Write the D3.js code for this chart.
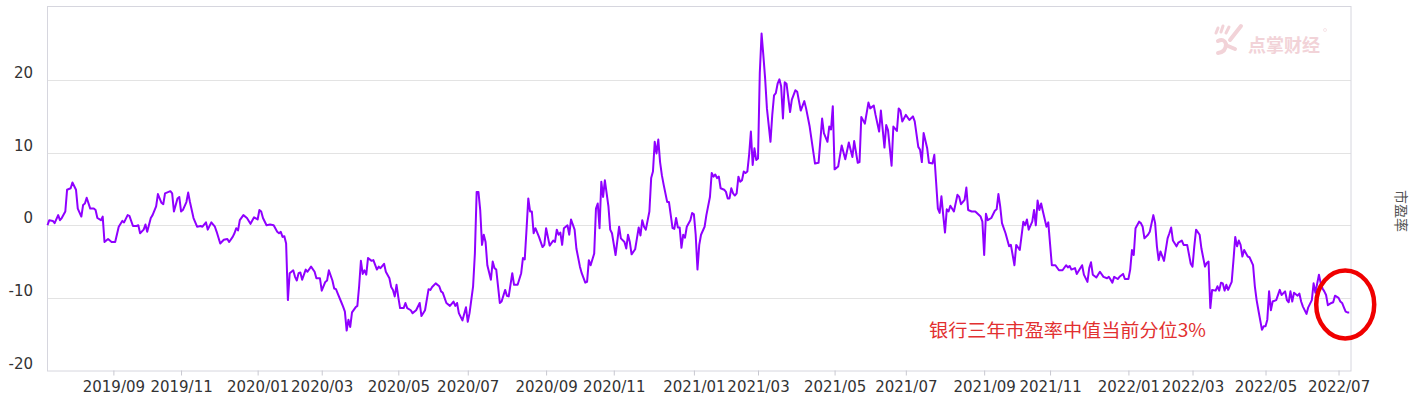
<!DOCTYPE html>
<html>
<head>
<meta charset="utf-8">
<script src="https://cdn.jsdelivr.net/npm/d3@7"></script>
<style>
  body { margin: 0; background: #fff; }
  svg { display: block; }
</style>
</head>
<body>
<div id="chart"></div>
<script>
// trading-day index (0 = first day shown) and the value drawn on that day
var tradeDay = [0,1,3,4,6,7,8,10,11,13,14,16,17,19,20,21,22,24,26,27,28,30,31,32,34,36,38,40,42,43,45,46,48,50,51,52,54,55,56,58,59,61,62,64,65,66,69,70,71,73,74,75,76,78,79,80,82,84,86,87,89,90,92,94,95,97,99,101,102,104,105,
  106,107,108,110,112,114,116,118,119,120,121,123,125,127,129,130,131,132,133,134,135,136,138,139,140,141,142,143,145,146,148,150,151,153,154,156,157,158,160,161,162,163,165,166,167,168,169,170,171,173,174,175,176,177,178,179,180,182,183,185,186,187,189,190,192,193,194,195,196,197,198,200,201,202,204,205,207,209,210,212,214,215,216,218,220,221,222,224,226,228,229,230,231,233,235,236,237,239,240,241,242,243,244,245,246,247,249,250,251,252,254,255,257,258,259,261,262,264,266,267,268,269,270,271,272,273,274,276,278,279,280,282,284,285,286,287,288,289,290,292,293,294,296,297,299,300,302,303,304,305,307,308,309,310,311,312,313,315,316,317,319,321,322,324,325,326,327,328,330,331,332,333,334,335,336,338,339,340,341,342,343,344,345,346,348,349,351,352,353,354,355,356,357,358,359,361,362,363,364,365,366,367,369,370,372,373,374,375,376,377,378,380,381,382,383,384,385,386,387,388,389,390,391,392,393,394,395,396,397,398,399,400,401,402,403,404,405,406,407,408,409,410,411,412,413,414,415,417,418,420,421,423,425,426,428,431,433,435,436,438,439,440,441,442,444,446,448,450,452,453,455,456,457,459,461,462,464,465,467,468,470,471,472,474,475,477,478,479,480,482,484,486,487,489,490,491,492,494,495,497,498,499,500,501,502,503,504,505,506,507,509,511,512,513,515,516,517,519,521,524,525,526,527,528,530,532,533,534,535,536,538,540,541,543,544,546,548,549,550,551,553,554,555,556,557,558,559,561,562,564,566,568,570,572,573,574,575,577,578,581,582,584,585,586,587,589,591,593,595,596,598,599,601,602,604,605,607,608,609,610,611,613,614,615,616,618,619,621,622,623,624,625,627,629,630,631,632,634,635,637,638,640,642,643,644,645,647,648,650,651,652,653,654,656,657,658,659,660,661,662,663,665,666,667,668,669,670,671,672,674,675,677,678,679,680,682,683,684,685,686,687,688,690,692,693,695,696,697,698,699,700,702,703,704,705,707,708,710,711,712,714,715,716,717,718,719,721,722,723,725,726,727,728,729,730,731];
var peValue = [0.0,0.7,0.6,0.3,1.4,0.7,1.0,1.9,4.9,5.1,5.9,4.9,2.3,1.2,2.8,3.0,3.8,2.3,2.3,2.1,1.0,0.7,1.2,-2.3,-1.9,-2.3,-2.3,-0.2,0.6,0.4,1.4,1.3,-0.1,-0.1,0.0,-1.1,-0.6,0.1,-0.9,1.0,1.4,2.6,4.3,3.1,2.9,4.4,4.7,4.4,1.9,3.7,3.9,1.9,2.1,3.2,4.5,3.2,1.0,-0.2,-0.1,-0.2,0.4,-0.6,0.4,-0.2,-0.9,-2.5,-2.0,-1.9,-2.3,-1.6,-1.1,
  -0.4,-0.7,0.7,1.4,1.0,0.2,1.1,0.8,2.1,1.9,1.0,0.0,0.1,0.0,-0.9,-1.1,-0.9,-1.6,-1.5,-2.5,-10.3,-6.6,-6.2,-7.1,-7.6,-6.6,-6.5,-7.5,-6.1,-6.4,-5.7,-6.4,-7.3,-7.3,-9.0,-7.8,-7.6,-6.2,-7.6,-8.7,-8.8,-9.4,-10.6,-11.2,-11.9,-14.5,-13.0,-14.0,-12.0,-11.3,-11.1,-8.4,-4.9,-6.7,-6.2,-6.8,-4.5,-4.9,-4.8,-6.1,-5.7,-5.9,-5.3,-6.4,-7.3,-8.5,-8.9,-9.8,-8.2,-9.9,-11.4,-11.4,-10.7,-11.4,-11.7,-12.1,-11.7,-10.7,-12.5,-11.7,-8.8,-8.9,-8.5,-8.0,-8.4,-9.1,-9.3,-10.7,-11.1,-10.5,-11.1,-10.7,-12.1,-13.1,-11.3,-13.3,-12.1,-8.4,-3.9,4.6,4.6,2.1,-2.7,-1.3,-2.3,-5.5,-7.5,-5.0,-5.9,-6.1,-10.7,-10.5,-8.9,-9.7,-9.8,-6.6,-8.2,-8.2,-6.6,-4.5,-4.7,-0.6,3.7,1.9,1.9,-1.1,-0.4,-1.6,-3.0,-2.7,-0.4,-2.8,-2.1,-2.3,-0.6,-1.3,-1.0,-2.7,-0.4,0.0,-1.3,0.8,-0.6,-3.2,-5.7,-6.6,-7.9,-7.8,-4.8,-5.5,-3.9,2.3,3.0,-0.4,6.0,3.9,6.2,2.6,-0.6,-1.1,-4.1,-0.2,-1.8,-2.3,-3.2,-1.3,-2.3,-4.0,-3.3,-1.8,-0.3,-1.4,0.7,-0.2,-0.6,1.9,6.5,7.4,11.5,9.9,11.8,8.7,6.9,5.6,3.2,3.2,-0.4,-0.5,1.0,-0.3,-0.3,-3.1,-1.3,-1.7,-0.2,0.7,1.7,1.5,-1.3,-6.1,-2.7,-1.3,-0.2,1.4,3.9,7.2,6.7,7.0,6.5,6.7,5.1,4.9,4.6,3.7,3.7,5.1,4.4,4.1,4.4,6.7,6.0,6.2,7.4,7.2,7.4,9.7,12.9,8.3,10.6,9.0,9.2,21.0,26.4,23.4,20.2,16.1,13.8,11.5,15.2,17.9,18.2,19.5,20.1,19.1,14.7,19.7,19.5,15.6,17.3,18.6,18.4,15.8,17.1,16.1,13.6,8.5,8.6,14.7,12.7,11.5,13.6,13.2,16.4,7.7,8.1,11.0,9.1,11.4,9.4,11.6,8.6,8.7,14.9,14.0,16.9,16.1,16.5,15.2,12.9,15.8,10.7,13.8,13.1,8.2,13.6,13.0,16.1,15.8,14.3,15.2,14.5,15.0,14.3,10.8,10.4,8.7,12.7,10.6,8.6,8.5,9.7,6.0,2.3,1.7,4.0,1.4,-1.0,2.2,1.9,2.7,1.9,4.2,3.9,2.9,3.5,5.2,2.1,1.9,1.9,1.2,0.5,-4.1,1.6,0.7,1.0,2.0,2.2,4.3,2.6,0.3,-1.1,-2.9,-2.7,-5.5,-2.7,-3.4,0.5,0.0,0.8,-0.6,0.5,2.1,0.0,3.4,2.1,3.0,1.9,-0.2,0.4,-5.5,-5.5,-6.2,-6.2,-5.5,-5.8,-5.6,-6.1,-5.9,-6.7,-5.5,-6.8,-7.8,-5.9,-5.1,-6.8,-7.2,-6.4,-7.1,-7.3,-7.1,-7.9,-7.1,-7.4,-7.1,-6.7,-7.4,-7.4,-6.1,-3.4,-4.1,-0.4,0.5,0.3,-0.2,-1.8,-1.3,-0.9,1.4,0.3,-2.9,-4.8,-3.6,-4.9,-1.8,-1.1,-0.3,-2.1,-2.9,-2.4,-2.1,-2.7,-2.7,-5.3,-5.7,-2.9,-0.6,-1.3,-3.2,-5.7,-5.2,-5.0,-11.4,-8.9,-9.0,-8.4,-9.0,-7.9,-8.0,-9.0,-8.2,-8.9,-7.8,-4.8,-1.6,-2.9,-2.1,-2.7,-4.3,-3.4,-4.3,-4.4,-5.5,-8.4,-10.3,-11.7,-14.4,-13.9,-13.9,-13.0,-9.1,-11.7,-10.5,-10.3,-8.9,-9.6,-9.1,-10.3,-10.6,-9.1,-10.5,-9.3,-9.7,-9.4,-10.5,-11.2,-12.2,-11.3,-10.3,-8.0,-9.3,-6.8,-8.0,-8.7,-9.1,-9.6,-11.0,-10.7,-10.6,-9.7,-10.0,-10.5,-10.7,-11.3,-11.9,-12.0,-12.0];

var lastDay = 732;
var tickDay = [37, 75, 118, 154, 197, 236, 280, 318, 363, 399, 442, 482, 526, 563, 607, 643, 684, 725];
var tickLabel = ["2019/09","2019/11","2020/01","2020/03","2020/05","2020/07","2020/09","2020/11",
  "2021/01","2021/03","2021/05","2021/07","2021/09","2021/11","2022/01","2022/03","2022/05","2022/07"];
var yTicks = [-20, -10, 0, 10, 20];
var axisName = "市盈率";
var note = "银行三年市盈率中值当前分位3%";

(function() {
var width = 1424, height = 409;
var plotL = 47.5, plotR = 1351, plotT = 6, plotB = 370.5;

var svg = d3.select("#chart").append("svg")
    .attr("width", width)
    .attr("height", height);

var x = d3.scaleLinear().domain([0, lastDay]).range([plotL, plotR]);
var y = d3.scaleLinear().domain([-20, 30.2]).range([plotB, plotT]);

// grid lines
svg.append("g").selectAll("line")
    .data(yTicks.slice(1)).enter().append("line")
    .attr("x1", plotL).attr("x2", plotR)
    .attr("y1", function(d){ return Math.round(y(d)) + 0.5; })
    .attr("y2", function(d){ return Math.round(y(d)) + 0.5; })
    .attr("stroke", "#e3e3e3")
    .attr("stroke-width", 1);

// frame
svg.append("rect")
    .attr("x", plotL).attr("y", plotT + 0.5)
    .attr("width", plotR - plotL).attr("height", plotB - plotT)
    .attr("fill", "none")
    .attr("stroke", "#d6d6de");

// y labels
svg.append("g").selectAll("text")
    .data(yTicks).enter().append("text")
    .attr("x", 33)
    .attr("y", function(d){ return y(d) - 2; })
    .attr("text-anchor", "end")
    .attr("font-family", "DejaVu Sans, sans-serif")
    .attr("font-size", 15)
    .attr("fill", "#333")
    .text(function(d){ return d; });

// x axis ticks + labels
var xAxis = d3.axisBottom(x)
    .tickValues(tickDay)
    .tickFormat(function(d, i){ return tickLabel[i]; })
    .tickSize(5)
    .tickPadding(6);
var gx = svg.append("g")
    .attr("transform", "translate(0," + plotB + ")")
    .call(xAxis);
gx.select(".domain").remove();
gx.selectAll(".tick line").attr("stroke", "#c8c8d0");
gx.selectAll(".tick text")
    .attr("font-family", "DejaVu Sans, sans-serif")
    .attr("font-size", 15)
    .attr("fill", "#333");

// watermark
var wm = svg.append("g").attr("transform", "translate(1214,24)")
    .attr("stroke", "#f2d3d8").attr("stroke-linecap", "round").attr("fill", "none");
wm.append("path").attr("d", "M2,9 L4,4").attr("stroke-width", 3);
wm.append("path").attr("d", "M7,8 L9,2").attr("stroke-width", 3);
wm.append("path").attr("d", "M12,9 L15,3").attr("stroke-width", 3);
wm.append("path").attr("d", "M16,16 L27,2").attr("stroke-width", 4);
wm.append("path").attr("d", "M4,17 Q10,14 12,20 Q12,28 4,29").attr("stroke-width", 4);
wm.append("path").attr("d", "M14,22 L21,25").attr("stroke-width", 4);
svg.append("text")
    .attr("x", 1248).attr("y", 52)
    .attr("font-family", "Noto Sans CJK SC")
    .attr("font-weight", "bold")
    .attr("font-size", 18)
    .attr("fill", "#f2d3d8")
    .text("点掌财经");
svg.append("circle").attr("cx", 1325).attr("cy", 30).attr("r", 1.5)
    .attr("fill", "none").attr("stroke", "#f2d3d8").attr("stroke-width", 0.6);

// the series
var line = d3.line()
    .x(function(d){ return x(d[0]); })
    .y(function(d){ return y(d[1]); });
var points = tradeDay.map(function(d, i){ return [d, peValue[i]]; });
svg.append("path")
    .datum(points)
    .attr("d", line)
    .attr("fill", "none")
    .attr("stroke", "#8f00ff")
    .attr("stroke-width", 2)
    .attr("stroke-linejoin", "round");

// right axis name
svg.append("text")
    .attr("transform", "translate(1396,211) rotate(90)")
    .attr("text-anchor", "middle")
    .attr("font-family", "Noto Sans CJK SC")
    .attr("font-size", 14)
    .attr("fill", "#555")
    .text(axisName);

// annotation
var lastPt = points[points.length - 1];
svg.append("ellipse")
    .attr("cx", x(lastPt[0]) - 4)
    .attr("cy", y(lastPt[1]) - 8)
    .attr("rx", 29).attr("ry", 34)
    .attr("fill", "none")
    .attr("stroke", "#f00000")
    .attr("stroke-width", 4.5);
svg.append("text")
    .attr("x", 929).attr("y", 336.5)
    .attr("font-family", "Noto Sans CJK SC")
    .attr("font-size", 18)
    .attr("textLength", 277)
    .attr("lengthAdjust", "spacingAndGlyphs")
    .attr("fill", "#e23030")
    .text(note);
})();
</script>
</body>
</html>
